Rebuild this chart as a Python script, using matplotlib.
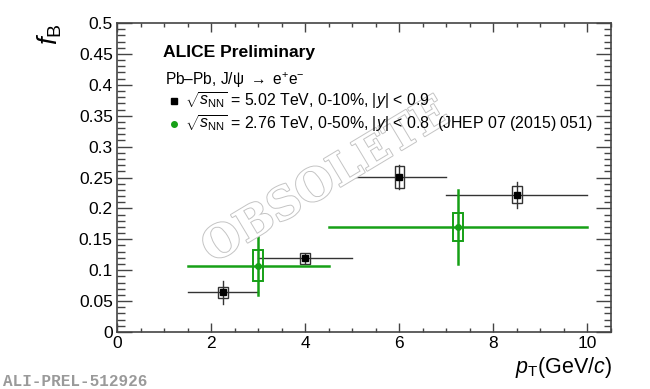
import matplotlib
matplotlib.use("Agg")
import matplotlib.pyplot as plt
import matplotlib.patheffects as pe
from matplotlib.patches import Rectangle
from matplotlib.ticker import FixedLocator, MultipleLocator

# ---------------- data ----------------
# 5.02 TeV, 0-10% (black)
pt_502 = [2.25, 4.0, 6.0, 8.5]
xlo_502 = [1.5, 3.0, 5.0, 7.0]
xhi_502 = [3.0, 5.0, 7.0, 10.0]
fb_502 = [0.064, 0.119, 0.251, 0.222]
stat_502 = [0.019, 0.007, 0.019, 0.021]
syst_502 = [0.009, 0.009, 0.018, 0.014]

# 2.76 TeV, 0-50% (green)
pt_276 = [3.0, 7.25]
xlo_276 = [1.5, 4.5]
xhi_276 = [4.5, 10.0]
fb_276 = [0.107, 0.170]
stat_276 = [0.047, 0.060]
syst_276 = [0.025, 0.022]

xticks = [0, 2, 4, 6, 8, 10]
xtick_labels = ["0", "2", "4", "6", "8", "10"]
yticks = [0, 0.05, 0.1, 0.15, 0.2, 0.25, 0.3, 0.35, 0.4, 0.45, 0.5]
ytick_labels = ["0", "0.05", "0.1", "0.15", "0.2", "0.25", "0.3", "0.35", "0.4", "0.45", "0.5"]

label_502 = r"$\sqrt{s_{\rm NN}}$ = 5.02 TeV, 0-10%, $|y|$ < 0.9"
label_276 = r"$\sqrt{s_{\rm NN}}$ = 2.76 TeV, 0-50%, $|y|$ < 0.8  (JHEP 07 (2015) 051)"

# ---------------- style ----------------
plt.rcParams["font.family"] = ["Liberation Sans", "DejaVu Sans"]
plt.rcParams["mathtext.fontset"] = "custom"
plt.rcParams["mathtext.rm"] = "Liberation Sans"
plt.rcParams["mathtext.it"] = "Liberation Sans:italic"
plt.rcParams["mathtext.bf"] = "Liberation Sans:bold"

W, H = 650, 389
fig = plt.figure(figsize=(W / 100, H / 100), dpi=100)
L, R, T, B = 117, 611, 23, 332
ax = fig.add_axes([L / W, 1 - B / H, (R - L) / W, (B - T) / H])
ax.set_xlim(0, 10.5)
ax.set_ylim(0, 0.5)

axcol = "#444444"
for s in ax.spines.values():
    s.set_color(axcol)
    s.set_linewidth(1.2)

ax.xaxis.set_major_locator(FixedLocator(xticks))
ax.set_xticklabels(xtick_labels)
ax.xaxis.set_minor_locator(MultipleLocator(0.5))
ax.yaxis.set_major_locator(FixedLocator(yticks))
ax.set_yticklabels(ytick_labels)
ax.yaxis.set_minor_locator(MultipleLocator(0.01))
ax.tick_params(axis="both", which="both", direction="in", top=True, right=True,
               color=axcol, width=1.0, labelsize=12.5)
ax.tick_params(axis="x", which="major", length=6.5, pad=3)
ax.tick_params(axis="x", which="minor", length=3.2)
ax.tick_params(axis="y", which="major", length=10.8, pad=3)
ax.tick_params(axis="y", which="minor", length=5.4)

GREEN = "#16a016"

def fx(px):
    return px / W

def fy(py):
    return 1 - py / H

# watermark
fig.text(fx(326), fy(181), "OBSOLETE", family=["DejaVu Serif"],
         fontweight="bold", fontsize=32, rotation=31, ha="center", va="center",
         color="white", zorder=1,
         path_effects=[pe.Stroke(linewidth=1.4, foreground="#c4c4c4"), pe.Normal()])

# black series
for x, lo, hi, y, st, sy in zip(pt_502, xlo_502, xhi_502, fb_502, stat_502, syst_502):
    ax.plot([lo, hi], [y, y], color="#333333", lw=1.0, zorder=3)
    ax.plot([x, x], [y - st, y + st], color="#333333", lw=1.0, zorder=3)
    ax.add_patch(Rectangle((x - 0.1, y - sy), 0.2, 2 * sy, fill=False,
                           edgecolor="#333333", lw=1.0, zorder=3))
ax.plot(pt_502, fb_502, ls="none", marker="s", ms=4.3, color="black", zorder=4)

# green series
for x, lo, hi, y, st, sy in zip(pt_276, xlo_276, xhi_276, fb_276, stat_276, syst_276):
    ax.plot([lo, hi], [y, y], color=GREEN, lw=1.8, zorder=3)
    ax.plot([x, x], [y - st, y + st], color=GREEN, lw=1.8, zorder=3)
    ax.add_patch(Rectangle((x - 0.1, y - sy), 0.2, 2 * sy, fill=False,
                           edgecolor=GREEN, lw=1.4, zorder=3))
ax.plot(pt_276, fb_276, ls="none", marker="o", ms=4, color=GREEN, zorder=4)

# legend / annotations
fig.text(fx(163), fy(52), "ALICE Preliminary", fontsize=12.6, fontweight="bold",
         ha="left", va="center")
fig.text(fx(165), fy(80), r"Pb–Pb, J/ψ $\rightarrow$ e$^{+}$e$^{-}$", fontsize=11.2,
         ha="left", va="center")
fig.lines.append(plt.Line2D([fx(174)], [fy(101)], transform=fig.transFigure,
                            marker="s", ms=4.3, color="black", ls="none"))
fig.lines.append(plt.Line2D([fx(174)], [fy(124)], transform=fig.transFigure,
                            marker="o", ms=4, color=GREEN, ls="none"))
fig.text(fx(185), fy(101), label_502, fontsize=11.4, ha="left", va="center")
fig.text(fx(185), fy(124), label_276, fontsize=11.4, ha="left", va="center")

# axis titles
fig.text(fx(612), fy(368), r"$p_{\rm T}$(GeV/$c$)", fontsize=15.5, ha="right", va="center")
fig.text(fx(50), fy(23), r"$f_{\rm B}$", fontsize=20, rotation=90, ha="center", va="top")

fig.text(fx(3), fy(381), "ALI-PREL-512926", family=["Liberation Mono", "DejaVu Sans Mono"],
         fontweight="bold", fontsize=11.5, color="#9a9a9a", ha="left", va="center")

fig.savefig("out.png", dpi=100)
